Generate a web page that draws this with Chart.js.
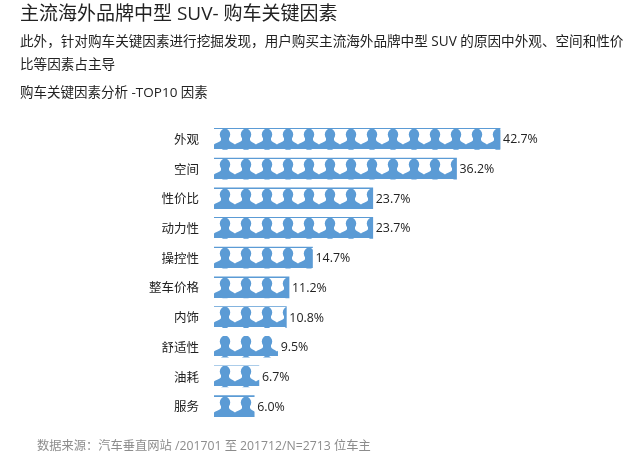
<!DOCTYPE html>
<html lang="zh">
<head>
<meta charset="utf-8">
<title>购车关键因素</title>
<script src="https://cdn.jsdelivr.net/npm/chart.js@4"></script>
<style>
  html, body { margin: 0; padding: 0; background: #fff; }
  body { width: 640px; height: 469px; position: relative; overflow: hidden; font-family: "Open Sans", "Noto Sans CJK SC", sans-serif; color: #222; }
  #wrap { position: absolute; left: 0; top: 0; width: 640px; height: 469px; }
  .txt { position: absolute; white-space: nowrap; line-height: 1; }
  #title { left: 20px; top: 4px; font-size: 19px; }
  #sub1 { left: 20px; top: 34px; font-size: 13.6px; }
  #sub2 { left: 20px; top: 57px; font-size: 13.6px; }
  #head { left: 20px; top: 86px; font-size: 13.5px; }
  #note { left: 37px; top: 440px; font-size: 12.25px; color: #8c8c8c; }
</style>
</head>
<body>
<div id="wrap"><canvas id="chart" width="640" height="469"></canvas></div>
<div class="txt" id="title">主流海外品牌中型 SUV- 购车关键因素</div>
<div class="txt" id="sub1">此外，针对购车关键因素进行挖掘发现，用户购买主流海外品牌中型 SUV 的原因中外观、空间和性价</div>
<div class="txt" id="sub2">比等因素占主导</div>
<div class="txt" id="head">购车关键因素分析 -TOP10 因素</div>
<div class="txt" id="note">数据来源：汽车垂直网站 /201701 至 201712/N=2713 位车主</div>
<script>
'use strict';

const categories = ['外观', '空间', '性价比', '动力性', '操控性', '整车价格', '内饰', '舒适性', '油耗', '服务'];
const shares = [42.7, 36.2, 23.7, 23.7, 14.7, 11.2, 10.8, 9.5, 6.7, 6.0];

const BLUE = '#5B9BD5';
const TILE_W = 21;
const TILE_H = 20;

// one person, repeated along the bar
function personTile() {
  const c = document.createElement('canvas');
  c.width = TILE_W;
  c.height = TILE_H;
  const g = c.getContext('2d');
  g.fillStyle = BLUE;
  g.beginPath();
  g.ellipse(11, 5.5, 5.2, 5.8, 0, 0, Math.PI * 2);
  g.fill();
  g.beginPath();
  g.moveTo(7, 8);
  g.lineTo(15, 8);
  g.lineTo(15, 11);
  g.bezierCurveTo(15.5, 13, 18.5, 13.5, 21, 15.5);
  g.lineTo(21, 20);
  g.lineTo(0, 20);
  g.lineTo(0, 15.5);
  g.bezierCurveTo(2.5, 13.5, 6.5, 13, 7, 11);
  g.closePath();
  g.fill();
  return c;
}

const tile = personTile();

function barPattern(ctx) {
  const chart = ctx.chart;
  if (!chart.chartArea) return BLUE;
  const top = Math.round(chart.scales.y.getPixelForValue(ctx.dataIndex) - 10.5);
  // the upper rows wrap the shoulder line over the heads, 内饰/舒适性/油耗 do not
  const clean = ctx.dataIndex >= 6 && ctx.dataIndex <= 8;
  const p = chart.ctx.createPattern(tile, 'repeat');
  p.setTransform(new DOMMatrix().translate(chart.chartArea.left, clean ? top : top + 1));
  return p;
}

const valueLabels = {
  id: 'valueLabels',
  afterDatasetsDraw(chart) {
    const { ctx } = chart;
    ctx.save();
    ctx.font = '12.4px "Open Sans", "Noto Sans CJK SC", sans-serif';
    ctx.fillStyle = '#222';
    ctx.textBaseline = 'middle';
    chart.getDatasetMeta(0).data.forEach((bar, i) => {
      ctx.fillText(shares[i].toFixed(1) + '%', bar.x + 3, bar.y + 1);
    });
    ctx.restore();
  }
};

new Chart(document.getElementById('chart'), {
  type: 'bar',
  data: {
    labels: categories,
    datasets: [{
      data: shares,
      backgroundColor: barPattern,
      barThickness: 21,
      borderWidth: 0
    }]
  },
  options: {
    indexAxis: 'y',
    responsive: false,
    animation: false,
    layout: { padding: { top: 124, bottom: 48, right: 24 } },
    plugins: { legend: { display: false }, tooltip: { enabled: false } },
    scales: {
      x: { display: false, min: 0, max: 60 },
      y: {
        afterFit(axis) { axis.width = 214; },
        grid: { display: false, drawTicks: false },
        border: { display: false },
        ticks: {
          padding: 15,
          labelOffset: 1.5,
          color: '#222',
          font: { family: '"Open Sans", "Noto Sans CJK SC", sans-serif', size: 12.5 }
        }
      }
    }
  },
  plugins: [valueLabels]
});
</script>
</body>
</html>
